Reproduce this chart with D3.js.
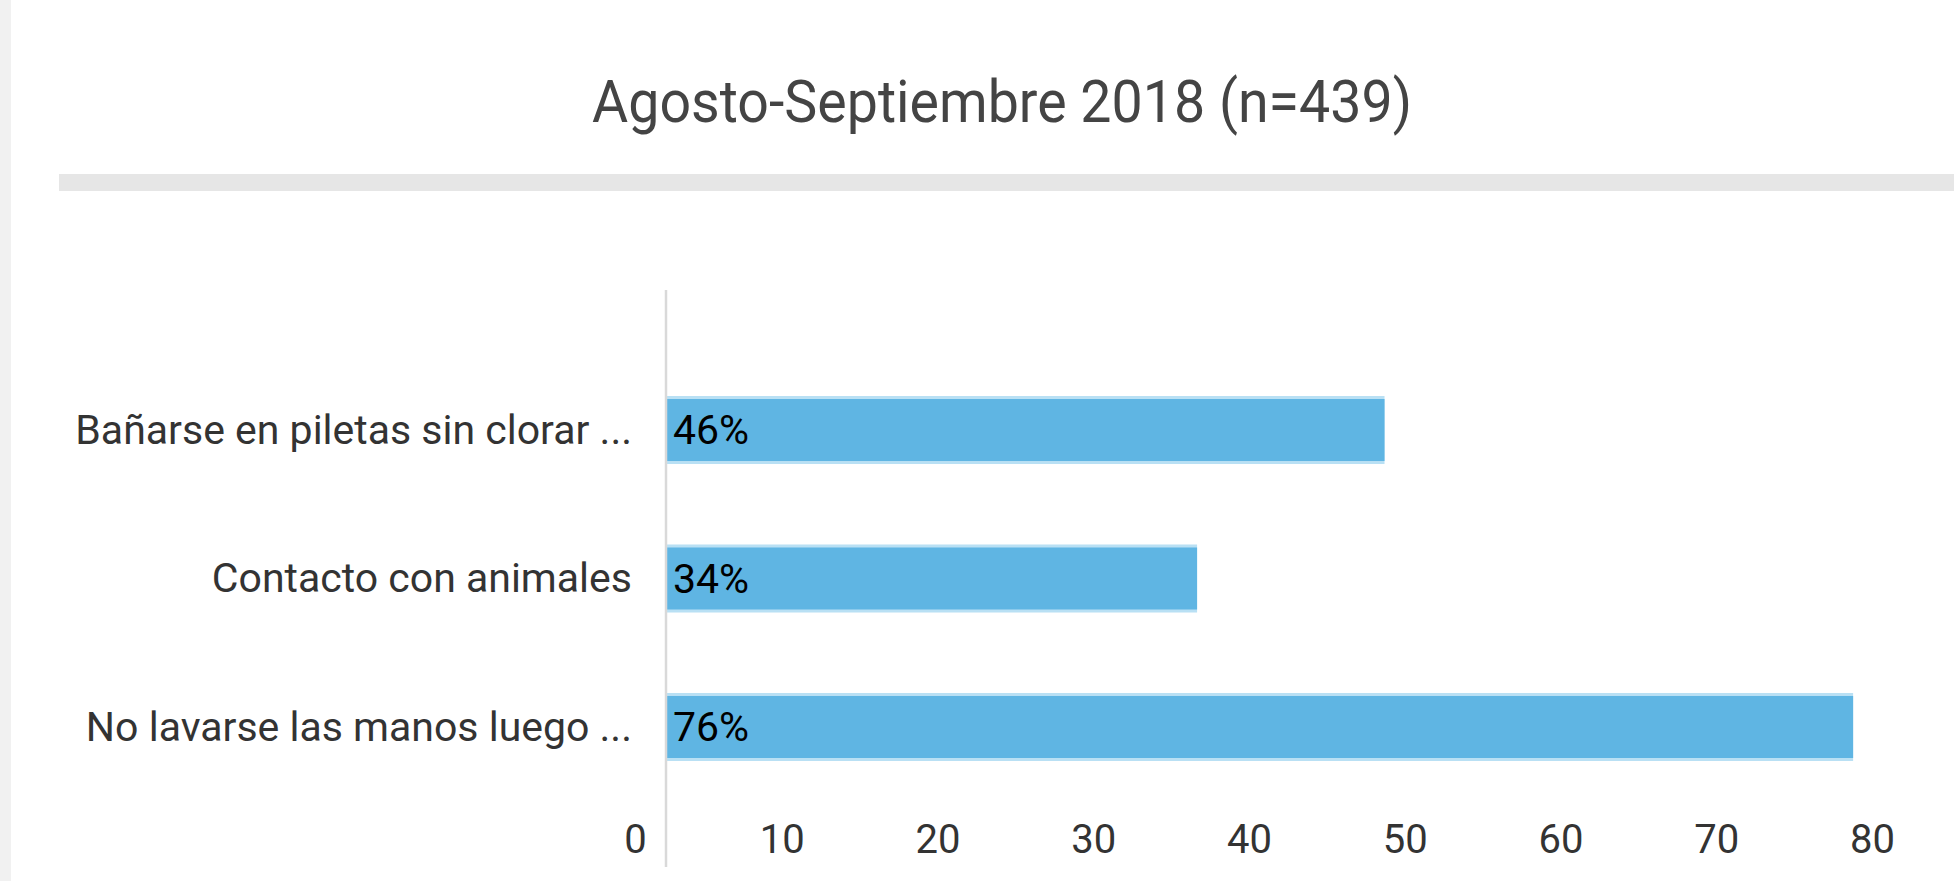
<!DOCTYPE html>
<html>
<head>
<meta charset="utf-8">
<script src="https://cdn.jsdelivr.net/npm/d3@7"></script>
<style>
  html, body { margin: 0; padding: 0; background: #fff; overflow: hidden; }
  svg { display: block; font-family: Roboto, "Noto Sans", Arial, sans-serif; }
</style>
</head>
<body>
<script>
// data
const subtitle = "Agosto-Septiembre 2018 (n=439)";
const categories = [
  "Bañarse en piletas sin clorar ...",
  "Contacto con animales",
  "No lavarse las manos luego ..."
];
const values = [46, 34, 76];
const valueLabels = ["46%", "34%", "76%"];
const tickValues = [0, 10, 20, 30, 40, 50, 60, 70, 80];

var width = 1954;
var height = 881;

var svg = d3.select("body").append("svg")
  .attr("width", width)
  .attr("height", height);

// grey strip on the left edge
svg.append("rect")
  .attr("x", 0).attr("y", 0)
  .attr("width", 11).attr("height", height)
  .attr("fill", "#f1f1f1");

// subtitle
svg.append("text")
  .attr("x", 1002)
  .attr("y", 122)
  .attr("text-anchor", "middle")
  .attr("textLength", 820)
  .attr("lengthAdjust", "spacingAndGlyphs")
  .style("font-size", "60px")
  .style("font-weight", "400")
  .attr("fill", "#444")
  .text(subtitle);

// grey separator band
svg.append("rect")
  .attr("x", 59).attr("y", 174)
  .attr("width", width - 59).attr("height", 17)
  .attr("fill", "#e6e6e6");

var x = d3.scaleLinear().domain([0, 80]).range([666, 666 + 80 * 15.62]);
// the tick labels sit a bit left of the bar scale in the original
var xTick = d3.scaleLinear().domain([0, 80]).range([626, 1872]);

var y = d3.scaleBand()
  .domain(categories)
  .range([396, 761])
  .paddingInner(0.542)
  .paddingOuter(0);

// bars: light outer edge, main fill inside
var bars = svg.append("g").selectAll("g")
  .data(categories)
  .enter()
  .append("g");

bars.append("rect")
  .attr("x", x(0))
  .attr("y", function (d) { return y(d); })
  .attr("width", function (d, i) { return x(values[i]) - x(0); })
  .attr("height", y.bandwidth())
  .attr("fill", "#b9e0f4");

bars.append("rect")
  .attr("x", x(0))
  .attr("y", function (d) { return y(d) + 3; })
  .attr("width", function (d, i) { return x(values[i]) - x(0); })
  .attr("height", y.bandwidth() - 6)
  .attr("fill", "#5fb5e3");

bars.append("text")
  .attr("x", x(0) + 7)
  .attr("y", function (d) { return y(d) + y.bandwidth() / 2 + 14; })
  .style("font-size", "41px")
  .attr("fill", "#000")
  .text(function (d, i) { return valueLabels[i]; });

// category axis
var yAxis = svg.append("g")
  .attr("transform", "translate(632,0)")
  .call(d3.axisLeft(y).tickSize(0).tickPadding(0));
yAxis.select(".domain").remove();
yAxis.selectAll("text")
  .attr("x", 0)
  .attr("dy", "0.33em")
  .attr("fill", "#333")
  .style("font-size", "41px")
  .style("font-family", "Roboto, 'Noto Sans', sans-serif");

// vertical baseline
svg.append("line")
  .attr("x1", x(0)).attr("x2", x(0))
  .attr("y1", 290).attr("y2", 867)
  .attr("stroke", "#d9d9d9")
  .attr("stroke-width", 2.5);

// value axis labels
var xAxis = svg.append("g")
  .attr("transform", "translate(0,853)")
  .call(d3.axisBottom(xTick).tickValues(tickValues).tickSize(0).tickPadding(0));
xAxis.select(".domain").remove();
xAxis.selectAll("text")
  .attr("y", 0)
  .attr("dy", 0)
  .attr("fill", "#333")
  .style("font-size", "40px")
  .style("font-family", "Roboto, 'Noto Sans', sans-serif")
  .attr("dx", function (d) { return d === 0 ? 9 : 0; });
</script>
</body>
</html>
